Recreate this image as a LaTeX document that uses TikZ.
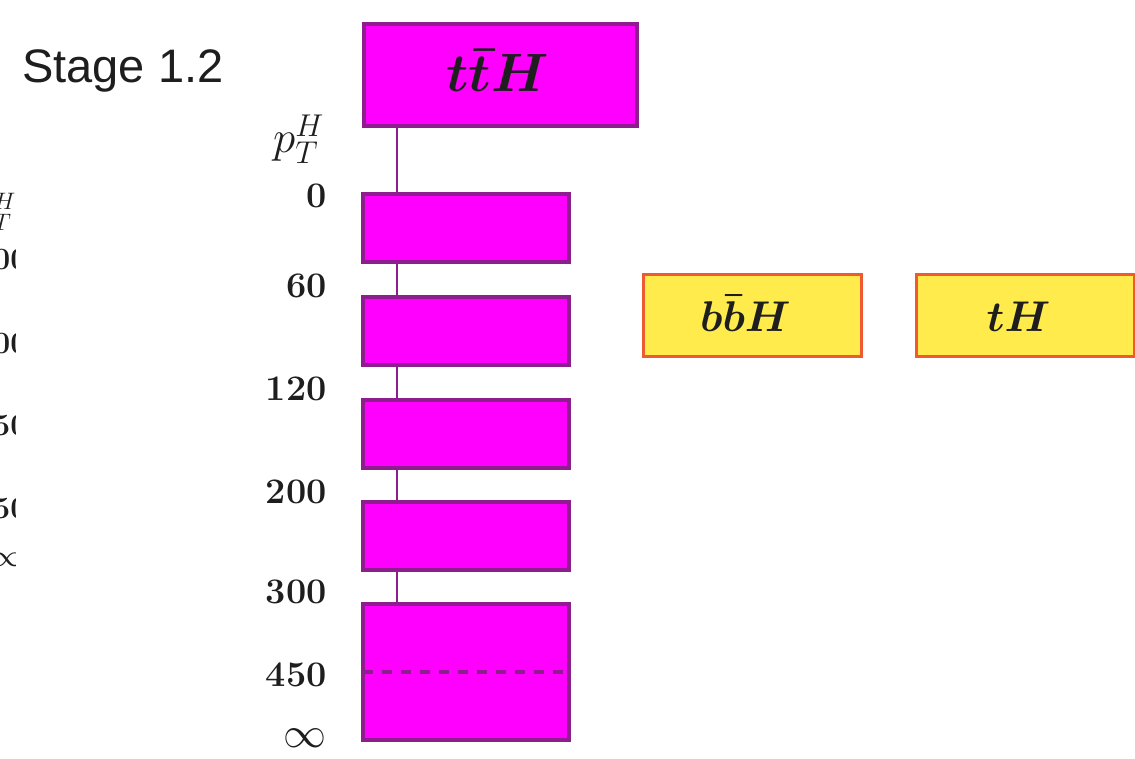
\RequirePackage{fix-cm}
\documentclass[tikz,border=0pt]{standalone}
\usepackage{fontspec}
\usepackage{amsmath}
\newfontfamily\stagefont{Liberation Sans}
\definecolor{boxpurple}{RGB}{142,30,142}
\definecolor{boxmag}{RGB}{255,0,255}
\definecolor{boxorange}{RGB}{240,90,48}
\definecolor{boxyellow}{RGB}{255,236,76}
\definecolor{txt}{RGB}{30,30,30}
\begin{document}
\begin{tikzpicture}[x=1pt,y=-1pt,
  stagebox/.style={draw=boxpurple, line width=4pt, fill=boxmag, rectangle, inner sep=0pt, outer sep=0pt, minimum width=206pt, minimum height=68pt},
  prodbox/.style={draw=boxorange, line width=3pt, fill=boxyellow, rectangle, inner sep=0pt, outer sep=0pt, minimum width=218pt, minimum height=82pt, font=\fontsize{43}{48}\selectfont\boldmath, text height=32pt, text depth=0pt, text=txt},
  binlabel/.style={anchor=base east, inner sep=0pt, text=txt, font=\fontsize{36}{40}\selectfont\bfseries},
  fraglabel/.style={anchor=base east, inner sep=0pt, text=txt, font=\fontsize{31}{34}\selectfont\bfseries},
  link/.style={draw=boxpurple, line width=2.5pt},
]
\useasboundingbox (0,0) rectangle (1135,759);

% title
\node[anchor=base west, inner sep=0pt, text=txt, font=\stagefont\fontsize{47}{50}\selectfont] (stage) at (22,83) {Stage 1.2};

% partial labels of the neighbouring diagram, cut at the left edge
\begin{scope}
\clip (0,0) rectangle (15,759);
\node[anchor=east, inner sep=0pt, text=txt, font=\fontsize{34}{38}\selectfont] (fpt) at (16,212) {$p_T^H$};
\node[fraglabel] (f1) at (28,270) {200};
\node[fraglabel] (f2) at (28,353) {300};
\node[fraglabel] (f3) at (28,435) {450};
\node[fraglabel] (f4) at (28,518) {650};
\node[anchor=east, inner sep=0pt, text=txt, font=\fontsize{31}{34}\selectfont] (f5) at (23,560) {$\infty$};
\end{scope}

% ttH bins
\node[stagebox, minimum width=273pt, minimum height=102pt, font=\fontsize{54}{60}\selectfont\boldmath, text height=33pt, text depth=0pt, text=txt] (tth) at (500.5,75) {$t\bar{t}H$\kern6pt};
\node[stagebox] (b1) at (466,228) {};
\node[stagebox] (b2) at (466,331) {};
\node[stagebox] (b3) at (466,433.5) {};
\node[stagebox] (b4) at (466,535.5) {};
\node[stagebox, minimum height=136pt] (b5) at (466,672) {};

\coordinate (ax) at (397,0);
\draw[link] (ax |- tth.south) -- (ax |- b1.north);
\draw[link] (ax |- b1.south) -- (ax |- b2.north);
\draw[link] (ax |- b2.south) -- (ax |- b3.north);
\draw[link] (ax |- b3.south) -- (ax |- b4.north);
\draw[link] (ax |- b4.south) -- (ax |- b5.north);
\draw[boxpurple, line width=3.5pt, dash pattern=on 10pt off 9pt] (b5.west) -- (b5.east);

% bin edges
\node[anchor=east, inner sep=0pt, text=txt, font=\fontsize{45}{50}\selectfont] (pt) at (324,139) {$p_T^H$};
\node[binlabel] (l0) at (327,208) {0};
\node[binlabel] (l60) at (327,298) {60};
\node[binlabel] (l120) at (327,400) {120};
\node[binlabel] (l200) at (327,503) {200};
\node[binlabel] (l300) at (327,603) {300};
\node[binlabel] (l450) at (327,686) {450};
\node[anchor=base east, inner sep=0pt, text=txt, font=\fontsize{43}{46}\selectfont] (linf) at (327,747) {$\infty$};

% other production modes
\node[prodbox] (bbh) at (752.5,315.5) {$b\bar{b}H$\kern14pt};
\node[prodbox] (th) at (1025.5,315.5) {$tH$\kern14pt};
\end{tikzpicture}
\end{document}
